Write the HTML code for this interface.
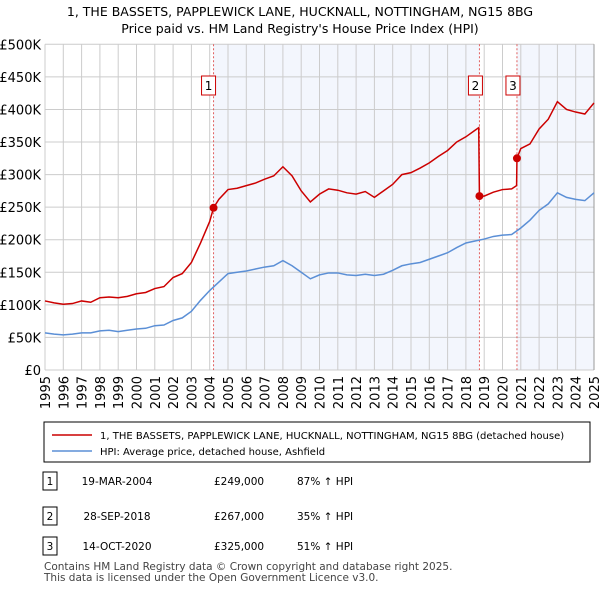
<!DOCTYPE html>
<html><head><meta charset="utf-8"><style>
body{margin:0;background:#fff;font-family:"DejaVu Sans","Liberation Sans",sans-serif;}
svg text{font-family:"DejaVu Sans","Liberation Sans",sans-serif;}
</style></head><body>
<svg id="c" width="600" height="590" xmlns="http://www.w3.org/2000/svg"></svg>
<script>
const hpiYears=[1995,1995.5,1996,1996.5,1997,1997.5,1998,1998.5,1999,1999.5,2000,2000.5,2001,2001.5,2002,2002.5,2003,2003.5,2004,2004.5,2005,2005.5,2006,2006.5,2007,2007.5,2008,2008.5,2009,2009.5,2010,2010.5,2011,2011.5,2012,2012.5,2013,2013.5,2014,2014.5,2015,2015.5,2016,2016.5,2017,2017.5,2018,2018.5,2019,2019.5,2020,2020.5,2021,2021.5,2022,2022.5,2023,2023.5,2024,2024.5,2025];
const hpiValues=[57,55,54,55,57,57,60,61,59,61,63,64,68,69,76,80,90,107,122,135,148,150,152,155,158,160,168,160,150,140,146,149,149,146,145,147,145,147,153,160,163,165,170,175,180,188,195,198,201,205,207,208,218,230,245,255,272,265,262,260,272];
const redYears=[1995,1995.5,1996,1996.5,1997,1997.5,1998,1998.5,1999,1999.5,2000,2000.5,2001,2001.5,2002,2002.5,2003,2003.5,2004,2004.21,2004.5,2005,2005.5,2006,2006.5,2007,2007.5,2008,2008.5,2009,2009.5,2010,2010.5,2011,2011.5,2012,2012.5,2013,2013.5,2014,2014.5,2015,2015.5,2016,2016.5,2017,2017.5,2018,2018.5,2018.7,2018.74,2019,2019.5,2020,2020.5,2020.77,2020.79,2021,2021.5,2022,2022.5,2023,2023.5,2024,2024.5,2025];
const redValues=[106,103,101,102,106,104,111,112,111,113,117,119,125,128,142,148,165,195,228,249,262,277,279,283,287,293,298,312,298,275,258,270,278,276,272,270,274,265,275,285,300,303,310,318,328,337,350,358,368,372,267,267,273,277,278,283,325,340,347,370,385,412,400,396,393,410];
const saleYears=[2004.21,2018.74,2020.79];
const salePrices=[249,267,325];
const saleLabels=["1","2","3"];
const yTicks=[0,50,100,150,200,250,300,350,400,450,500];
const yTickLabels=["£0","£50K","£100K","£150K","£200K","£250K","£300K","£350K","£400K","£450K","£500K"];
const xTicks=[1995,1996,1997,1998,1999,2000,2001,2002,2003,2004,2005,2006,2007,2008,2009,2010,2011,2012,2013,2014,2015,2016,2017,2018,2019,2020,2021,2022,2023,2024,2025];

const svg=document.getElementById('c');
const NS='http://www.w3.org/2000/svg';
const L=45,R=594,T=44.3,B=370;
const X=y=>L+(y-1995)*(R-L)/30;
const Y=v=>B-v*(B-T)/500;
function el(tag,attrs,parent){const e=document.createElementNS(NS,tag);for(const k in attrs)e.setAttribute(k,attrs[k]);(parent||svg).appendChild(e);return e;}

let s1=el('rect',{x:X(saleYears[0]),y:T,width:X(saleYears[1])-X(saleYears[0]),height:B-T,fill:'#eef2fc',opacity:0.7});


let s2=el('rect',{x:X(saleYears[2]),y:T,width:R-X(saleYears[2]),height:B-T,fill:'#eef2fc',opacity:0.7});



yTicks.forEach((v,i)=>{
  const g=el('line',{x1:L,x2:R,y1:Y(v),y2:Y(v),stroke:'#cccccc','stroke-width':1});
  
  
  const t=el('text',{x:L-4,y:Y(v)+5,'text-anchor':'end','font-size':13,fill:'#000'});
  t.textContent=yTickLabels[i];
  
  
});
xTicks.forEach(y=>{
  const g=el('line',{x1:X(y),x2:X(y),y1:T,y2:B,stroke:'#cccccc','stroke-width':1});
  
  
  const t=el('text',{x:0,y:0,'text-anchor':'end','font-size':13,fill:'#000',transform:`translate(${X(y)+5},${B+6}) rotate(-90)`});
  t.textContent=y;
  
  
});
let rb=el('line',{x1:R,x2:R,y1:T,y2:B,stroke:'#999',"stroke-width":1});



saleYears.forEach((y,i)=>{
  const l=el('line',{x1:X(y),x2:X(y),y1:T,y2:B,stroke:'#e06060','stroke-width':1,'stroke-dasharray':'2,2'});
  
  
  const r=el('rect',{x:X(y)-(i==0?12:11),y:76,width:14,height:19,fill:'#fff',stroke:'#cc0000','stroke-width':1});
  
  
  const t=el('text',{x:X(y)-(i==0?5:4),y:90,'text-anchor':'middle','font-size':12,fill:'#000'});
  t.textContent=saleLabels[i];
  
  
});

const hp=el('polyline',{points:hpiYears.map((y,i)=>X(y)+','+Y(hpiValues[i])).join(' '),fill:'none',stroke:'#5b8fd6','stroke-width':1.5});


const rp=el('polyline',{points:redYears.map((y,i)=>X(y)+','+Y(redValues[i])).join(' '),fill:'none',stroke:'#cc0000','stroke-width':1.5});


saleYears.forEach((y,i)=>{
  const c=el('circle',{cx:X(y),cy:Y(salePrices[i]),r:4,fill:'#cc0000'});
  
  
});

const t1=el('text',{x:300,y:16,'text-anchor':'middle','font-size':12.5,fill:'#000'});
t1.textContent='1, THE BASSETS, PAPPLEWICK LANE, HUCKNALL, NOTTINGHAM, NG15 8BG';


const t2=el('text',{x:300,y:33,'text-anchor':'middle','font-size':12.5,fill:'#000'});
t2.textContent="Price paid vs. HM Land Registry's House Price Index (HPI)";



const lg=el('rect',{x:44,y:422,width:546,height:40,fill:'#fff',stroke:'#000','stroke-width':1});


const l1=el('line',{x1:52,x2:92,y1:435,y2:435,stroke:'#cc0000','stroke-width':1.5});


const lt1=el('text',{x:100,y:439,'font-size':10,fill:'#000'});
lt1.textContent='1, THE BASSETS, PAPPLEWICK LANE, HUCKNALL, NOTTINGHAM, NG15 8BG (detached house)';


const l2=el('line',{x1:52,x2:92,y1:451,y2:451,stroke:'#5b8fd6','stroke-width':1.5});


const lt2=el('text',{x:100,y:455,'font-size':10,fill:'#000'});
lt2.textContent='HPI: Average price, detached house, Ashfield';



const rows=[["1","19-MAR-2004","£249,000","87% ↑ HPI",481],["2","28-SEP-2018","£267,000","35% ↑ HPI",516],["3","14-OCT-2020","£325,000","51% ↑ HPI",546]];
rows.forEach(r=>{
  const b=el('rect',{x:43,y:r[4]-9,width:14,height:18,fill:'#fff',stroke:'#000','stroke-width':1});
  
  
  const vals=[[r[0],50,'middle'],[r[1],117,'middle'],[r[2],214,'start'],[r[3],297,'start']];
  vals.forEach(v=>{
    const t=el('text',{x:v[1],y:r[4]+4,'text-anchor':v[2],'font-size':10.5,fill:'#000'});
    t.textContent=v[0];
    
    
  });
});
const f1=el('text',{x:44,y:570,'font-size':10.5,fill:'#444'});
f1.textContent='Contains HM Land Registry data © Crown copyright and database right 2025.';


const f2=el('text',{x:44,y:581,'font-size':10.5,fill:'#444'});
f2.textContent='This data is licensed under the Open Government Licence v3.0.';


</script>
</body></html>
